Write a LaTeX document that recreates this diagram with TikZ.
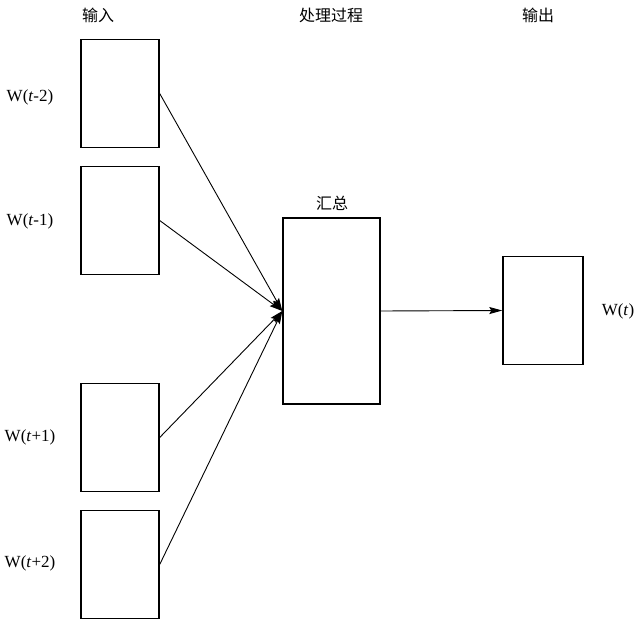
\documentclass[tikz,border=0pt]{standalone}
\usepackage{fontspec}
\setmainfont{Liberation Serif}
\newfontfamily\cjk{Noto Sans CJK SC}
\usetikzlibrary{arrows.meta,positioning}
\tikzset{
    % arrow tip
    >={Stealth[length=13pt,width=7pt,inset=2pt]},
    % connector style
    pil/.style={
           ->,
           line width=0.9pt,}
}
\begin{document}
\begin{tikzpicture}[x=1pt,y=-1pt,
inbox/.style={rectangle, draw=black, line width=1.4pt, inner sep=0pt,
  minimum width=78pt, minimum height=108pt},
sumbox/.style={rectangle, draw=black, line width=1.4pt, inner sep=0pt,
  minimum width=97pt, minimum height=186pt},
wlabel/.style={font=\fontsize{17}{20}\selectfont, inner sep=0pt},
head/.style={font=\cjk\fontsize{16}{19}\selectfont, inner sep=0pt},
]
\useasboundingbox (0,0) rectangle (640,620);
%Headers
\node[head](hin) at (98,15){输入};
\node[head](hproc) at (331,15){处理过程};
\node[head](hout) at (538,15){输出};

%Input boxes
\node[inbox](in1) at (120,93.5){};
\node[inbox](in2) at (120,220.5){};
\node[inbox](in3) at (120,437.5){};
\node[inbox](in4) at (120,564.5){};

\node[wlabel](l1) at (30,97){W(\textit{t}-2)};
\node[wlabel](l2) at (30,221){W(\textit{t}-1)};
\node[wlabel](l3) at (30,437){W(\textit{t}+1)};
\node[wlabel](l4) at (30,563){W(\textit{t}+2)};

%Summation
\node[sumbox](sum) at (331.5,311){};
\node[head](lsum) at (332,203){汇总};

%Output
\node[inbox, minimum width=80pt](out) at (543,310.5){};
\node[wlabel](lout) at (618,311){W(\textit{t})};

\draw[pil] (in1.east) -- (sum.west);
\draw[pil] (in2.east) -- (sum.west);
\draw[pil] (in3.east) -- (sum.west);
\draw[pil] (in4.east) -- (sum.west);
\draw[pil] (sum.east) -- (out.west);

\end{tikzpicture}
\end{document}
